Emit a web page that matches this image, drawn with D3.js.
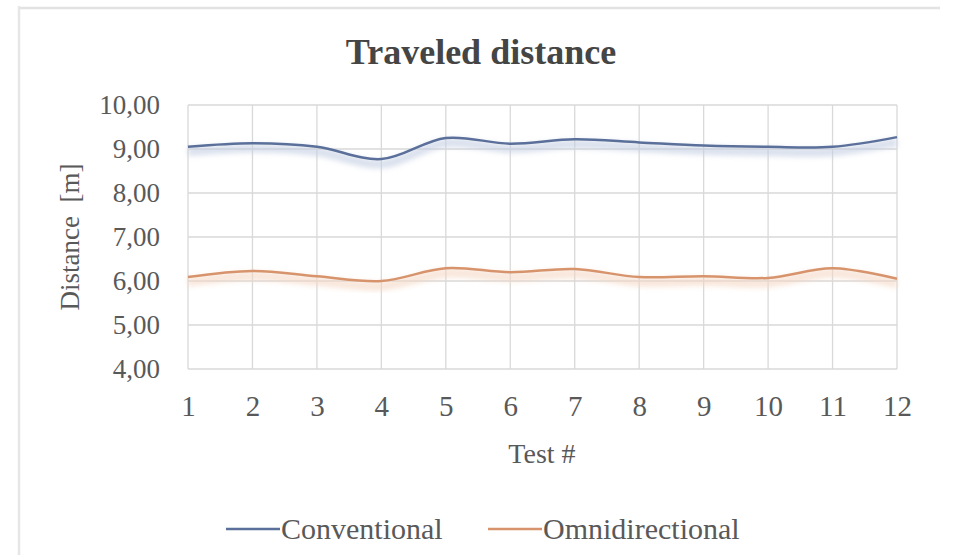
<!DOCTYPE html>
<html>
<head>
<meta charset="utf-8">
<script src="https://cdn.jsdelivr.net/npm/d3@7"></script>
<style>
  body { margin: 0; background: #fff; }
  svg text { font-family: "Liberation Serif", "Times New Roman", serif; fill: #595959; }
</style>
</head>
<body>
<svg id="chart" width="962" height="555"></svg>
<script>
const tests = [1, 2, 3, 4, 5, 6, 7, 8, 9, 10, 11, 12];
const conventional = [9.05, 9.13, 9.05, 8.77, 9.25, 9.12, 9.22, 9.15, 9.08, 9.05, 9.05, 9.27];
const omnidirectional = [6.09, 6.23, 6.11, 6.00, 6.29, 6.20, 6.27, 6.09, 6.11, 6.07, 6.29, 6.05];
const yTicks = [4, 5, 6, 7, 8, 9, 10];
const series = [
    { name: "Conventional", values: conventional, color: "#5a6f99", shadow: "#c3cee2" },
    { name: "Omnidirectional", values: omnidirectional, color: "#d7946c", shadow: "#f4d6c2" }
];

const svg = d3.select("#chart");
const margin = { left: 188, right: 65, top: 105, bottom: 186 };
const W = 962, H = 555;

const x = d3.scaleLinear().domain([1, 12]).range([margin.left, W - margin.right]);
const y = d3.scaleLinear().domain([4, 10]).range([H - margin.bottom, margin.top]);

// frame (only top and left edges show)
svg.append("line").attr("x1", 18).attr("x2", 940).attr("y1", 8).attr("y2", 8)
    .attr("stroke", "#e2e2e2").attr("stroke-width", 2.5);
svg.append("line").attr("x1", 19).attr("x2", 19).attr("y1", 6).attr("y2", H)
    .attr("stroke", "#e6e6e6").attr("stroke-width", 2.5);

const defs = svg.append("defs");
defs.append("filter").attr("id", "blur").attr("x", "-5%").attr("y", "-50%").attr("width", "110%").attr("height", "200%")
    .append("feGaussianBlur").attr("stdDeviation", 2.5);

// grid
const grid = svg.append("g").attr("stroke", "#d9d9d9").attr("stroke-width", 1.3);
grid.selectAll(".h").data(yTicks).join("line")
    .attr("x1", x(1)).attr("x2", x(12))
    .attr("y1", d => y(d)).attr("y2", d => y(d));
grid.selectAll(".v").data(tests).join("line")
    .attr("x1", d => x(d)).attr("x2", d => x(d))
    .attr("y1", y(10)).attr("y2", y(4));

// y axis
const yAxis = svg.append("g")
    .attr("transform", `translate(${margin.left},0)`)
    .call(d3.axisLeft(y).tickValues(yTicks).tickSize(0).tickPadding(28)
        .tickFormat(d => d3.format(".2f")(d).replace(".", ",")));
yAxis.select(".domain").remove();
yAxis.selectAll("text").attr("font-size", 27).attr("fill", "#595959")
    .style("font-family", "'Liberation Serif', serif");

// x axis
const xAxis = svg.append("g")
    .attr("transform", `translate(0,${y(4)})`)
    .call(d3.axisBottom(x).tickValues(tests).tickSize(0).tickPadding(26).tickFormat(d3.format("d")));
xAxis.select(".domain").remove();
xAxis.selectAll("text").attr("font-size", 29).attr("fill", "#595959")
    .style("font-family", "'Liberation Serif', serif");

// lines, each with a soft shadow under it
const line = d3.line()
    .x((d, i) => x(tests[i]))
    .y(d => y(d))
    .curve(d3.curveCatmullRom.alpha(0.5));

series.forEach(s => {
    svg.append("path")
        .attr("d", line(s.values))
        .attr("transform", "translate(0,5)")
        .attr("fill", "none")
        .attr("stroke", s.shadow)
        .attr("stroke-width", 9)
        .attr("opacity", 0.6)
        .attr("filter", "url(#blur)");
    svg.append("path")
        .attr("d", line(s.values))
        .attr("fill", "none")
        .attr("stroke", s.color)
        .attr("stroke-width", 2.5);
});

// title
svg.append("text")
    .attr("x", 481).attr("y", 64)
    .attr("text-anchor", "middle")
    .attr("font-size", 36).attr("font-weight", "bold")
    .style("fill", "#454545")
    .text("Traveled distance");

// axis titles
svg.append("text")
    .attr("x", 542).attr("y", 463)
    .attr("text-anchor", "middle")
    .attr("font-size", 28)
    .text("Test #");

svg.append("text")
    .attr("transform", `translate(79,${(y(10) + y(4)) / 2}) rotate(-90)`)
    .attr("text-anchor", "middle")
    .attr("font-size", 27)
    .style("white-space", "pre")
    .text("Distance  [m]");

// legend
const legendX = [226, 488];
const legend = svg.append("g");
series.forEach((s, i) => {
    const g = legend.append("g").attr("transform", `translate(${legendX[i]},529)`);
    g.append("line").attr("x1", 0).attr("x2", 54).attr("y1", 0).attr("y2", 0)
        .attr("stroke", s.color).attr("stroke-width", 2.5);
    g.append("text").attr("x", 55).attr("y", 10)
        .attr("font-size", 30)
        .text(s.name);
});
</script>
</body>
</html>
